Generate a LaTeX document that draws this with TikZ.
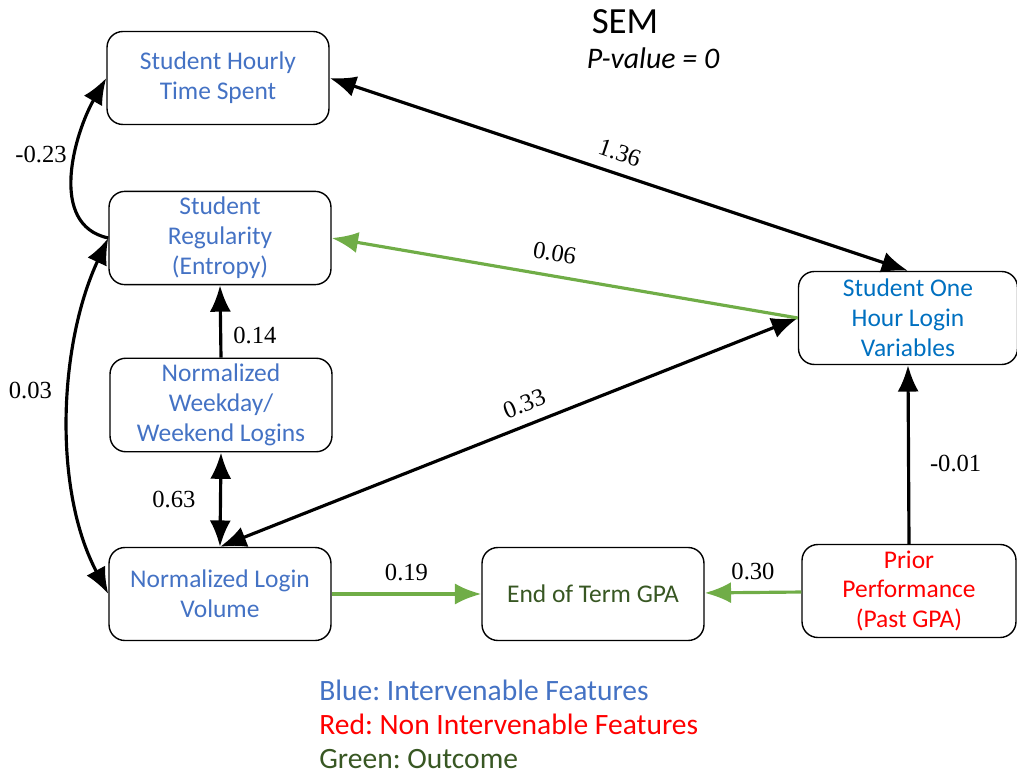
\documentclass[tikz,border=0pt]{standalone}
\usepackage{fontspec}
\setmainfont{Carlito}
\newfontfamily\weightfont{Liberation Serif}
\usetikzlibrary{arrows.meta}
\frenchspacing
\definecolor{featblue}{HTML}{4472C4}
\definecolor{loginblue}{HTML}{0070C0}
\definecolor{outgreen}{HTML}{385723}
\definecolor{arrowgreen}{HTML}{70AD47}
\tikzstyle{vertex}=[draw,rounded corners=9pt,line width=0.8pt,minimum width=4.44cm,minimum height=1.86cm,align=center,font=\fontsize{14.5}{17}\selectfont]
\tikzstyle{directededge}=[draw,line width=1.8pt,-{Latex[length=15pt,width=12pt]}]
\tikzstyle{bidirectededge}=[draw,line width=1.8pt,{Latex[length=15pt,width=12pt]}-{Latex[length=15pt,width=12pt]}]
\tikzstyle{greenedge}=[directededge,arrowgreen]
\tikzstyle{weight}=[font=\weightfont\fontsize{14}{16}\selectfont,text=black]
\tikzstyle{legend}=[anchor=west,inner sep=0pt,font=\fontsize{16.8}{19}\selectfont]

\begin{document}
\begin{tikzpicture}[x=0.02cm,y=-0.02cm]
    \useasboundingbox (0,0) rectangle (1017,776);
    % Title
    \node (title) at (625,22) {\fontsize{21}{25}\selectfont SEM};
    \node (pval) at (653,58) {\fontsize{17}{20}\selectfont\itshape P-value = 0};

    % First we draw the boxes of the left column
    \foreach \pos/\name/\txt in {{(218,78)/hourly/{Student Hourly\\Time Spent}},
        {(220,238)/reg/{Student\\Regularity\\(Entropy)}},
        {(221,405)/week/{Normalized\\Weekday\slash\\Weekend Logins}},
        {(220,594)/vol/{Normalized Login\\Volume}}}
        \node[vertex,text=featblue] (\name) at \pos {\txt};

    % then the outcome and the right column
    \node[vertex,text=outgreen] (gpa) at (593,594) {End of Term GPA};
    \node[vertex,text=loginblue,minimum width=4.38cm] (login) at (908,318) {Student One\\Hour Login\\Variables};
    \node[vertex,text=red,minimum width=4.28cm] (prior) at (909,591) {Prior\\Performance\\(Past GPA)};

    % Connect boxes with edges and draw weights
    \path[directededge] (reg.west) to[out=168,in=240] node[weight,left=1pt,pos=0.6] {-0.23} (hourly.west);
    \path[bidirectededge] (reg.west) to[out=245,in=118,looseness=0.85] node[weight,left=6pt,pos=0.43] {0.03} (vol.west);
    \path[directededge] (week.north) -- node[weight,right=3pt,pos=0.3] {0.14} (reg.south);
    \path[bidirectededge] (week.south) -- node[weight,left=10pt] {0.63} (vol.north);
    \path[bidirectededge] (hourly.east) -- node[weight,sloped,above=3pt,pos=0.49] {1.36} (login.north);
    \path[bidirectededge] (vol.north) -- node[weight,sloped,above=3pt,pos=0.54] {0.33} (login.west);
    \path[directededge] (prior.north) -- node[weight,right=8pt,pos=0.45] {-0.01} (login.south);
    \path[greenedge] (login.west) -- node[weight,sloped,above=4pt,pos=0.53] {0.06} (reg.east);

    \foreach \source/\dest/\weight in {vol/gpa/{0.19}, prior/gpa/{0.30}}
        \path[greenedge] (\source) -- node[weight,above=3pt] {\weight} (\dest);

    % Legend
    \node[legend,text=featblue] (leg1) at (319,690) {Blue: Intervenable Features};
    \node[legend,text=red] (leg2) at (319,724) {Red: Non Intervenable Features};
    \node[legend,text=outgreen] (leg3) at (319,759) {Green: Outcome};
\end{tikzpicture}
\end{document}
